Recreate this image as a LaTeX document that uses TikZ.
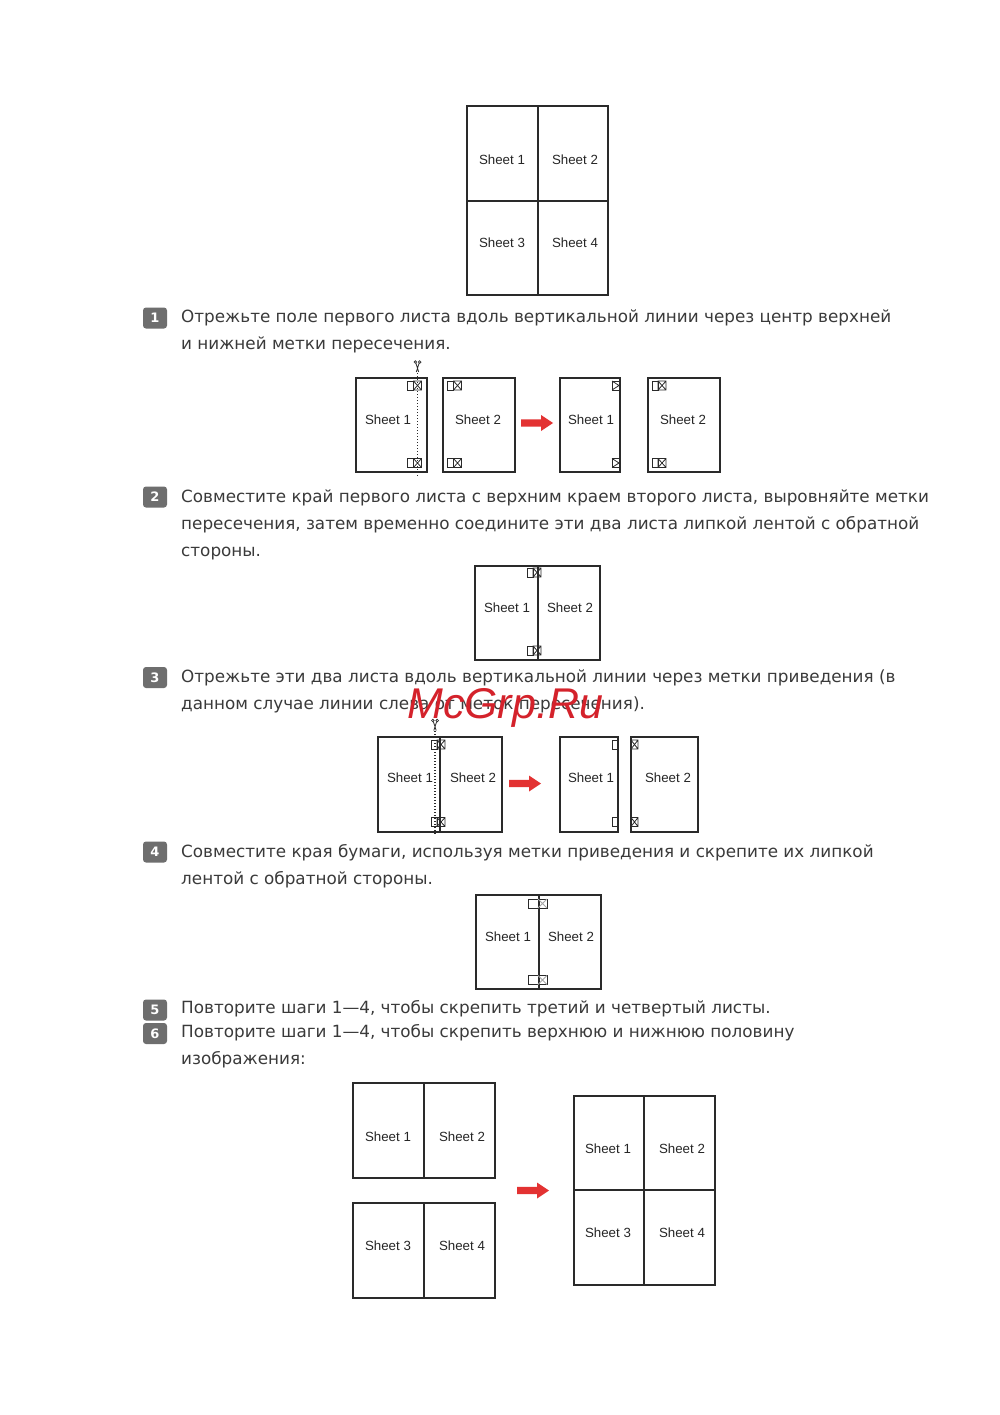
\documentclass[tikz,border=0pt]{standalone}
\usepackage{fontspec}
\setmainfont{DejaVu Sans}
\newfontfamily\labfont{Liberation Sans}
\definecolor{ink}{HTML}{2A2A2A}
\definecolor{txtc}{HTML}{3A3A3A}
\definecolor{badgec}{HTML}{6E6E6E}
\definecolor{redc}{HTML}{E33232}
\definecolor{wmc}{HTML}{D4222B}
\begin{document}
\begin{tikzpicture}[x=1pt,y=-1pt,
  cell/.style 2 args={draw=ink,line width=1.6pt,minimum width=#1,minimum height=#2,inner sep=0pt,anchor=north west},
  lab/.style={inner sep=0pt,font=\labfont\fontsize{13.3}{14}\selectfont,text=black!85},
  badge/.style={fill=badgec,rounded corners=3pt,minimum width=24pt,minimum height=21pt,inner sep=0pt,text=white,font=\bfseries\fontsize{13}{13}\selectfont},
  txt/.style={anchor=base west,inner sep=0pt,text=txtc,font=\fontsize{16.8}{20}\selectfont},
  mk/.style={draw=ink,line width=0.8pt},
  cutline/.style={draw=ink,line width=1.3pt,dash pattern=on 1.4pt off 1.6pt},
  fullmark/.pic={\draw[mk] (-6,-4.5) rectangle (0,4.5);
                 \draw[mk] (0,-4.5) rectangle (8,4.5) (0,-4.5)--(8,4.5) (0,4.5)--(8,-4.5);},
  xmark/.pic={\draw[mk] (0,-4.5) rectangle (7,4.5) (0,-4.5)--(7,4.5) (0,4.5)--(7,-4.5);},
  emptymark/.pic={\draw[mk] (0,-4.5) rectangle (5,4.5);},
  halfmark/.pic={\draw[mk] (0,-4.5) rectangle (7,4.5); \draw[mk] (0,-4.5)--(7,0)--(0,4.5);},
  widemark/.pic={\draw[mk] (-10,-4.5) rectangle (0,4.5);
                 \draw[mk] (0,-4.5) rectangle (9,4.5);
                 \draw[draw=gray!70,line width=0.8pt] (0,-4.5)--(9,4.5) (0,4.5)--(9,-4.5);},
  scissors/.pic={\draw[ink,line width=0.7pt] (-2.2,0) circle (1.3) (2.2,0) circle (1.3);
                 \draw[ink,line width=0.8pt] (-1.6,1.2)--(1.2,10) (1.6,1.2)--(-1.2,10);},
  redarrow/.pic={\fill[redc] (0,-3.6)--(20,-3.6)--(20,-8)--(32,0)--(20,8)--(20,3.6)--(0,3.6)--cycle;}
]
\useasboundingbox (0,0) rectangle (1000,1415);
\fill[white] (0,0) rectangle (1000,1415);

% ---- top figure
\node[cell={71pt}{95pt}] (t1) at (466,105) {};
\node[cell={70pt}{95pt}] (t2) at (537,105) {};
\node[cell={71pt}{94pt}] (t3) at (466,200) {};
\node[cell={70pt}{94pt}] (t4) at (537,200) {};
\node[lab] (tl1) at (502,160) {Sheet 1};
\node[lab] (tl2) at (575,160) {Sheet 2};
\node[lab] (tl3) at (502,243) {Sheet 3};
\node[lab] (tl4) at (575,243) {Sheet 4};

% ---- step 1
\node[badge] (b1) at (155,318) {1};
\node[txt] (l1a) at (181,322) {Отрежьте поле первого листа вдоль вертикальной линии через центр верхней};
\node[txt] (l1b) at (181,349) {и нижней метки пересечения.};

\node[cell={71pt}{94pt}] (s1a) at (355,377) {};
\node[cell={72pt}{94pt}] (s1b) at (442,377) {};
\node[cell={60pt}{94pt}] (s1c) at (559,377) {};
\node[cell={72pt}{94pt}] (s1d) at (647,377) {};
\node[lab] (s1al) at (388,420) {Sheet 1};
\node[lab] (s1bl) at (478,420) {Sheet 2};
\node[lab] (s1cl) at (591,420) {Sheet 1};
\node[lab] (s1dl) at (683,420) {Sheet 2};
\pic at (413.5,385.5) {fullmark};
\pic at (413.5,463) {fullmark};
\pic at (453.5,385.5) {fullmark};
\pic at (453.5,463) {fullmark};
\pic at (612,385.5) {halfmark};
\pic at (612,463) {halfmark};
\pic at (658,385.5) {fullmark};
\pic at (658,463) {fullmark};
\coordinate (c1t) at (417.5,373);
\coordinate (c1b) at (417.5,477);
\draw[cutline] (c1t) -- (c1b);
\pic at (417.5,362) {scissors};
\pic at (521,423) {redarrow};

% ---- step 2
\node[badge] (b2) at (155,497) {2};
\node[txt] (l2a) at (181,502) {Совместите край первого листа с верхним краем второго листа, выровняйте метки};
\node[txt] (l2b) at (181,529) {пересечения, затем временно соедините эти два листа липкой лентой с обратной};
\node[txt] (l2c) at (181,556) {стороны.};

\node[cell={63pt}{94pt}] (s2a) at (474,565) {};
\node[cell={62pt}{94pt}] (s2b) at (537,565) {};
\node[lab] (s2al) at (507,608) {Sheet 1};
\node[lab] (s2bl) at (570,608) {Sheet 2};
\pic at (533,572.5) {fullmark};
\pic at (533,650.5) {fullmark};

% ---- step 3
\node[badge] (b3) at (155,677.5) {3};
\node[txt] (l3a) at (181,682) {Отрежьте эти два листа вдоль вертикальной линии через метки приведения (в};
\node[txt] (l3b) at (181,709) {данном случае линии слева от меток пересечения).};

\node[cell={62pt}{95pt}] (s3a) at (377,736) {};
\node[cell={62pt}{95pt}] (s3b) at (439,736) {};
\node[cell={58pt}{95pt}] (s3c) at (559,736) {};
\node[cell={67pt}{95pt}] (s3d) at (630,736) {};
\node[lab] (s3al) at (410,778) {Sheet 1};
\node[lab] (s3bl) at (473,778) {Sheet 2};
\node[lab] (s3cl) at (591,778) {Sheet 1};
\node[lab] (s3dl) at (668,778) {Sheet 2};
\pic at (437,744.5) {fullmark};
\pic at (437,822) {fullmark};
\pic at (612,744.5) {emptymark};
\pic at (612,822) {emptymark};
\pic at (631,744.5) {xmark};
\pic at (631,822) {xmark};
\coordinate (c3t) at (435,731);
\coordinate (c3b) at (435,835);
\draw[cutline] (c3t) -- (c3b);
\pic at (435,720.5) {scissors};
\pic at (509,783.5) {redarrow};

% ---- step 4
\node[badge] (b4) at (155,852) {4};
\node[txt] (l4a) at (181,857) {Совместите края бумаги, используя метки приведения и скрепите их липкой};
\node[txt] (l4b) at (181,884) {лентой с обратной стороны.};

\node[cell={63pt}{94pt}] (s4a) at (475,894) {};
\node[cell={62pt}{94pt}] (s4b) at (538,894) {};
\node[lab] (s4al) at (508,937) {Sheet 1};
\node[lab] (s4bl) at (571,937) {Sheet 2};
\pic at (538,903.5) {widemark};
\pic at (538,980) {widemark};

% ---- steps 5, 6
\node[badge] (b5) at (155,1010) {5};
\node[txt] (l5a) at (181,1013) {Повторите шаги 1—4, чтобы скрепить третий и четвертый листы.};
\node[badge] (b6) at (155,1033.5) {6};
\node[txt] (l6a) at (181,1037) {Повторите шаги 1—4, чтобы скрепить верхнюю и нижнюю половину};
\node[txt] (l6b) at (181,1064) {изображения:};

\node[cell={71pt}{95pt}] (u1) at (352,1082) {};
\node[cell={71pt}{95pt}] (u2) at (423,1082) {};
\node[cell={71pt}{95pt}] (u3) at (352,1202) {};
\node[cell={71pt}{95pt}] (u4) at (423,1202) {};
\node[lab] (u1l) at (388,1137) {Sheet 1};
\node[lab] (u2l) at (462,1137) {Sheet 2};
\node[lab] (u3l) at (388,1246) {Sheet 3};
\node[lab] (u4l) at (462,1246) {Sheet 4};
\pic at (517,1190.5) {redarrow};
\node[cell={70pt}{94pt}] (v1) at (573,1095) {};
\node[cell={71pt}{94pt}] (v2) at (643,1095) {};
\node[cell={70pt}{95pt}] (v3) at (573,1189) {};
\node[cell={71pt}{95pt}] (v4) at (643,1189) {};
\node[lab] (v1l) at (608,1149) {Sheet 1};
\node[lab] (v2l) at (682,1149) {Sheet 2};
\node[lab] (v3l) at (608,1233) {Sheet 3};
\node[lab] (v4l) at (682,1233) {Sheet 4};

% ---- watermark
\node[anchor=base west,inner sep=0pt,text=wmc,font=\labfont\itshape\fontsize{43}{43}\selectfont] (wm) at (407,718) {McGrp.Ru};
\end{tikzpicture}
\end{document}
